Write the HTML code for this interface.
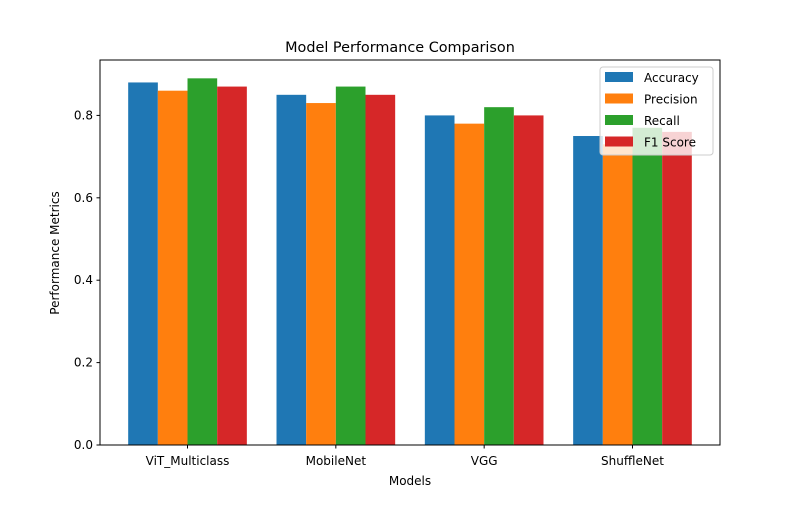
<!DOCTYPE html>
<html><head><meta charset="utf-8"><style>
body{margin:0;background:#fff;}
svg text{font-family:"DejaVu Sans","Liberation Sans",sans-serif;fill:#000;}
</style></head><body>
<svg id="chart" width="800" height="500"></svg>
<script>
const categories = ["ViT_Multiclass","MobileNet","VGG","ShuffleNet"];
const seriesNames = ["Accuracy","Precision","Recall","F1 Score"];
const accuracy = [0.88,0.85,0.80,0.75];
const precision = [0.86,0.83,0.78,0.73];
const recall = [0.89,0.87,0.82,0.77];
const f1 = [0.87,0.85,0.80,0.76];
const yTicks = [0,0.2,0.4,0.6,0.8];
const colors = ["#1f77b4","#ff7f0e","#2ca02c","#d62728"];
const series = [accuracy,precision,recall,f1];

const svg = document.getElementById('chart');
const NS = "http://www.w3.org/2000/svg";
const L=100,R=720,T=60,B=445;
const yMax = Math.max(...series.flat())*1.05;
const xMin=-0.59, xMax=categories.length-1+0.59;
const xS = v => L+(v-xMin)/(xMax-xMin)*(R-L);
const yS = v => B-v/yMax*(B-T);
function mk(tag, attrs, text){const e=document.createElementNS(NS,tag);for(const k in attrs)e.setAttribute(k,attrs[k]);if(text!==undefined)e.textContent=text;svg.appendChild(e);return e;}

const bw=0.2;
series.forEach((s,si)=>{
  s.forEach((v,ci)=>{
    const x0=xS(ci-0.4+si*bw), x1=xS(ci-0.4+(si+1)*bw);
    const r=mk('rect',{x:x0,y:yS(v),width:x1-x0,height:B-yS(v),fill:colors[si]});
    
    
  });
});
const frame=mk('rect',{x:L,y:T,width:R-L,height:B-T,fill:'none',stroke:'#000','stroke-width':1});


yTicks.forEach(t=>{
  const y=yS(t);
  mk('line',{x1:L-3.5,x2:L,y1:y,y2:y,stroke:'#000'});
  const tx=mk('text',{x:L-7,y:y+4,'text-anchor':'end','font-size':12},t.toFixed(1));
  
  
});
categories.forEach((c,i)=>{
  const x=xS(i);
  mk('line',{x1:x,x2:x,y1:B,y2:B+3.5,stroke:'#000'});
  const tx=mk('text',{x:x,y:B+20,'text-anchor':'middle','font-size':12},c);
  
  
});
let e=mk('text',{x:400,y:52,'text-anchor':'middle','font-size':14.4},'Model Performance Comparison');


e=mk('text',{x:410,y:485,'text-anchor':'middle','font-size':12},'Models');


e=mk('text',{x:59,y:253,'text-anchor':'middle','font-size':12,transform:'rotate(-90 59 253)'},'Performance Metrics');


const lg=mk('rect',{x:600,y:67,width:113,height:88,rx:3,fill:'#fff','fill-opacity':0.8,stroke:'#ccc'});


seriesNames.forEach((n,i)=>{
  const y=72+i*21.5;
  mk('rect',{x:605,y:y,width:28,height:10,fill:colors[i]});
  const tx=mk('text',{x:644,y:y+10,'font-size':12},n);
  
  
});
</script>
</body></html>
